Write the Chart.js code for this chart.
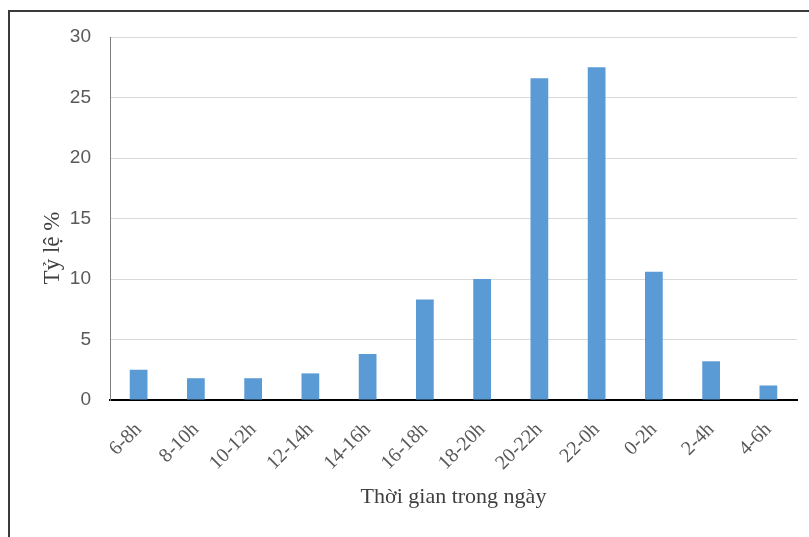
<!DOCTYPE html>
<html>
<head>
<meta charset="utf-8">
<title>Tỷ lệ theo thời gian trong ngày</title>
<script src="https://cdn.jsdelivr.net/npm/chart.js@4/dist/chart.umd.min.js"></script>
<style>
  html, body { margin: 0; padding: 0; background: #ffffff; }
  #wrap { width: 809px; height: 537px; }
</style>
</head>
<body>
<div id="wrap"><canvas id="chart" width="809" height="537"></canvas></div>
<script>
// Time slots of the day
const categories = ['6-8h', '8-10h', '10-12h', '12-14h', '14-16h', '16-18h',
                    '18-20h', '20-22h', '22-0h', '0-2h', '2-4h', '4-6h'];
// Share (%) for each time slot
const shares = [2.5, 1.8, 1.8, 2.2, 3.8, 8.3, 10.0, 26.6, 27.5, 10.6, 3.2, 1.2];
// Value axis ticks
const yTicks = [0, 5, 10, 15, 20, 25, 30];

const yTitle = 'Tỷ lệ %';
const xTitle = 'Thời gian trong ngày';

const serif = "'Liberation Serif', 'Times New Roman', serif";

// Frame lines along the left and top edges, plus the vertical axis title
const framePlugin = {
  id: 'frame',
  beforeDraw(chart) {
    const ctx = chart.ctx;
    ctx.save();
    ctx.fillStyle = '#ffffff';
    ctx.fillRect(0, 0, chart.width, chart.height);
    ctx.strokeStyle = '#3a3a3a';
    ctx.lineWidth = 2;
    ctx.beginPath();
    ctx.moveTo(9, chart.height);
    ctx.lineTo(9, 11);
    ctx.lineTo(chart.width, 11);
    ctx.stroke();
    ctx.restore();
  },
  afterDraw(chart) {
    const ctx = chart.ctx;
    ctx.save();
    ctx.translate(53, 248);
    ctx.rotate(-Math.PI / 2);
    ctx.fillStyle = '#404040';
    ctx.font = '23px ' + serif;
    ctx.textAlign = 'center';
    ctx.textBaseline = 'middle';
    ctx.fillText(yTitle, 0, 0);
    ctx.restore();
  }
};

new Chart(document.getElementById('chart'), {
  type: 'bar',
  data: {
    labels: categories,
    datasets: [{
      data: shares,
      backgroundColor: '#5B9BD5',
      borderWidth: 0,
      categoryPercentage: 1,
      barPercentage: 0.31
    }]
  },
  options: {
    responsive: false,
    animation: false,
    devicePixelRatio: 1,
    layout: { padding: { left: 37, right: 12, top: 37, bottom: 0 } },
    plugins: {
      legend: { display: false },
      tooltip: { enabled: false }
    },
    scales: {
      x: {
        grid: { display: false },
        border: { display: true, color: '#000000', width: 2 },
        ticks: {
          minRotation: 45,
          maxRotation: 45,
          padding: 10,
          color: '#595959',
          font: { family: serif, size: 20 }
        },
        title: {
          display: true,
          text: xTitle,
          color: '#404040',
          font: { family: serif, size: 22 },
          padding: { top: 0, bottom: 27 }
        },
        afterFit(scale) { scale.height = 137; }
      },
      y: {
        min: yTicks[0],
        max: yTicks[yTicks.length - 1],
        afterBuildTicks(scale) { scale.ticks = yTicks.map(v => ({ value: v })); },
        grid: { color: '#d9d9d9', lineWidth: 1, drawTicks: false },
        border: { display: true, color: '#7f7f7f', width: 1 },
        ticks: {
          padding: 19,
          color: '#595959',
          font: { family: "'Liberation Sans', Arial, sans-serif", size: 19 }
        },
        afterFit(scale) { scale.width = 73; }
      }
    }
  },
  plugins: [framePlugin]
});
</script>
</body>
</html>
